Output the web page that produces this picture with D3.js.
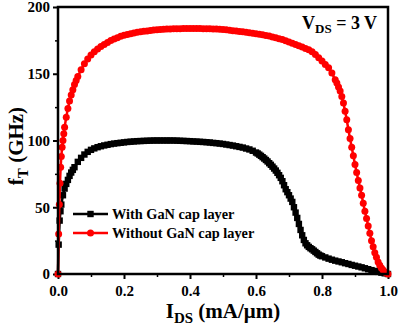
<!DOCTYPE html>
<html>
<head>
<meta charset="utf-8">
<script src="https://cdn.jsdelivr.net/npm/d3@7"></script>
<style>
  body { margin: 0; background: #fff; }
</style>
</head>
<body>
<div id="chart"></div>
<script>
var FONT = "'Liberation Serif', 'Times New Roman', serif";

// With GaN cap layer: drain current (mA/um) and fT (GHz)
var withCapX = [0, 0.002, 0.005, 0.0075, 0.01, 0.015, 0.02, 0.025, 0.03, 0.035, 0.04, 0.045, 0.05,
    0.06, 0.07, 0.08, 0.09, 0.10, 0.11, 0.12, 0.13, 0.14, 0.15, 0.16, 0.17, 0.18, 0.19,
    0.20, 0.21, 0.22, 0.23, 0.24, 0.25, 0.26, 0.27, 0.28, 0.29,
    0.30, 0.31, 0.32, 0.33, 0.34, 0.35, 0.36, 0.37, 0.38, 0.39,
    0.40, 0.41, 0.42, 0.43, 0.44, 0.45, 0.46, 0.47, 0.48, 0.49,
    0.50, 0.51, 0.52, 0.53, 0.54, 0.55, 0.56, 0.57, 0.58, 0.59,
    0.60, 0.605, 0.61, 0.615, 0.62, 0.625, 0.63, 0.635, 0.64, 0.645,
    0.65, 0.655, 0.66, 0.665, 0.67, 0.675, 0.68, 0.685, 0.69, 0.695,
    0.70, 0.705, 0.71, 0.715, 0.72, 0.725, 0.73, 0.735, 0.74, 0.745,
    0.75, 0.755, 0.76, 0.765, 0.77, 0.775, 0.78, 0.785, 0.79, 0.795,
    0.80, 0.81, 0.82, 0.83, 0.84, 0.85, 0.86, 0.87, 0.88, 0.89,
    0.90, 0.91, 0.92, 0.93, 0.94, 0.95, 0.96, 0.97, 0.98, 0.99, 1.00];
var withCapY = [0, 22, 40, 47, 52, 59, 64, 67.5, 70.5, 73.5, 76, 78, 80,
    84, 87, 89.5, 91.5, 93, 94.1, 95, 95.7, 96.3, 96.8, 97.3, 97.7, 98, 98.3,
    98.6, 98.9, 99.1, 99.3, 99.5, 99.6, 99.7, 99.8, 99.9, 100,
    100, 100, 100, 100, 100, 100, 99.9, 99.8, 99.7, 99.6,
    99.5, 99.3, 99.2, 99, 98.9, 98.7, 98.5, 98.2, 98, 97.7,
    97.4, 97, 96.6, 96.2, 95.7, 95.2, 94.7, 94, 93.3, 92.3,
    91, 90.3, 89.4, 88.5, 87.5, 86.5, 85.4, 84.3, 83, 81.8,
    80.4, 79, 77.5, 75.8, 74, 72, 69.5, 66.5, 63.5, 61.3,
    59, 56.5, 54, 50, 46, 42, 37.5, 33, 29, 25.5,
    23, 21.5, 20.3, 19.3, 18.5, 17.5, 16.5, 15.5, 14.5, 13.8,
    13.3, 12.4, 11.5, 10.7, 10, 9.4, 8.8, 8.1, 7.5, 6.8,
    6.2, 5.6, 5, 4.3, 3.6, 2.9, 2.3, 1.6, 1, 0.5, 0];

// Without GaN cap layer: drain current (mA/um) and fT (GHz)
var withoutCapX = [0, 0.002, 0.004, 0.006, 0.008, 0.01, 0.0125, 0.015, 0.0175, 0.02, 0.025,
    0.03, 0.035, 0.04, 0.045, 0.05, 0.055, 0.06, 0.07, 0.08, 0.09,
    0.10, 0.11, 0.12, 0.13, 0.14, 0.15, 0.16, 0.17, 0.18, 0.19,
    0.20, 0.21, 0.22, 0.23, 0.24, 0.25, 0.26, 0.27, 0.28, 0.29,
    0.30, 0.31, 0.32, 0.33, 0.34, 0.35, 0.36, 0.37, 0.38, 0.39,
    0.40, 0.41, 0.42, 0.43, 0.44, 0.45, 0.46, 0.47, 0.48, 0.49,
    0.50, 0.51, 0.52, 0.53, 0.54, 0.55, 0.56, 0.57, 0.58, 0.59,
    0.60, 0.61, 0.62, 0.63, 0.64, 0.65, 0.66, 0.67, 0.68, 0.69,
    0.70, 0.71, 0.72, 0.73, 0.74, 0.75, 0.76, 0.77, 0.78, 0.79,
    0.80, 0.81, 0.82, 0.83, 0.84, 0.845, 0.85, 0.855, 0.86, 0.865,
    0.87, 0.875, 0.88, 0.885, 0.89, 0.895, 0.90, 0.905, 0.91, 0.915,
    0.92, 0.925, 0.93, 0.935, 0.94, 0.945, 0.95, 0.955, 0.96, 0.965,
    0.97, 0.975, 0.98, 0.985, 0.99, 0.995, 1.00];
var withoutCapY = [0, 30, 52, 68, 80, 88, 95, 100, 105, 110, 117.5,
    124, 129.5, 134, 138, 142, 145, 148, 153, 157.5, 161,
    164, 166.5, 168.5, 170.5, 172, 173.5, 175, 176, 177, 178,
    178.8, 179.4, 180, 180.5, 181, 181.4, 181.8, 182.1, 182.4, 182.7,
    183, 183.2, 183.4, 183.5, 183.6, 183.7, 183.8, 183.8, 183.9, 183.9,
    183.9, 183.9, 183.9, 183.9, 183.8, 183.8, 183.7, 183.6, 183.5, 183.3,
    183.1, 182.9, 182.6, 182.3, 182, 181.7, 181.4, 181.1, 180.8, 180.4,
    180, 179.6, 179.2, 178.7, 178.2, 177.6, 177, 176.3, 175.6, 174.8,
    173.8, 172.9, 172, 171, 170, 169, 168, 166.5, 164.5, 162,
    159.5, 157, 154.5, 150.5, 145.5, 143, 140, 137, 133, 128,
    122, 115.5, 108, 101.5, 95, 88.5, 82, 76, 70, 64.5,
    59, 53, 47, 41.5, 36, 30.5, 25, 20.5, 16, 12.5,
    9, 6.5, 4.5, 3, 1.5, 0.7, 0];

var seriesNames = ["With GaN cap layer", "Without GaN cap layer"];
var seriesColors = ["#000000", "#ff0000"];
var xTicks = [0, 0.2, 0.4, 0.6, 0.8, 1.0];
var xMinorTicks = [0.1, 0.3, 0.5, 0.7, 0.9];
var yTicks = [0, 50, 100, 150, 200];
var yMinorTicks = [25, 75, 125, 175];

function init() {
    var width = 401, height = 326;
    var margin = { left: 58, right: 13, top: 7, bottom: 52 };
    var w = width - margin.left - margin.right;
    var h = height - margin.top - margin.bottom;

    var svg = d3.select("#chart").append("svg")
        .attr("width", width)
        .attr("height", height)
        .attr("font-family", FONT)
        .attr("font-weight", "bold");

    var g = svg.append("g")
        .attr("transform", `translate(${margin.left},${margin.top})`);

    var x = d3.scaleLinear().domain([0, 1]).range([0, w]);
    var y = d3.scaleLinear().domain([0, 200]).range([h, 0]);

    // minor ticks
    g.append("g")
        .attr("transform", `translate(0,${h})`)
        .call(d3.axisBottom(x).tickValues(xMinorTicks).tickSize(3).tickFormat(""))
        .call(a => a.select(".domain").remove())
        .selectAll("line").attr("stroke-width", 1.5);
    g.append("g")
        .call(d3.axisLeft(y).tickValues(yMinorTicks).tickSize(3).tickFormat(""))
        .call(a => a.select(".domain").remove())
        .selectAll("line").attr("stroke-width", 1.5);

    // major ticks
    var xAxis = g.append("g")
        .attr("transform", `translate(0,${h})`)
        .call(d3.axisBottom(x).tickValues(xTicks).tickSize(5).tickPadding(6).tickFormat(d3.format(".1f")));
    xAxis.attr("font-family", FONT).attr("font-size", 15);
    xAxis.select(".domain").remove();
    xAxis.selectAll("line").attr("stroke-width", 2);
    xAxis.selectAll("text").attr("fill", "#000");

    var yAxis = g.append("g")
        .call(d3.axisLeft(y).tickValues(yTicks).tickSize(5).tickPadding(3));
    yAxis.attr("font-family", FONT).attr("font-size", 15);
    yAxis.select(".domain").remove();
    yAxis.selectAll("line").attr("stroke-width", 2);
    yAxis.selectAll("text").attr("fill", "#000");

    var data = [
        withCapX.map((v, i) => [v, withCapY[i]]),
        withoutCapX.map((v, i) => [v, withoutCapY[i]])
    ];

    var line = d3.line().x(d => x(d[0])).y(d => y(d[1]));

    // black series
    g.append("path").datum(data[0])
        .attr("fill", "none").attr("stroke", seriesColors[0]).attr("stroke-width", 2.5)
        .attr("d", line);
    g.selectAll("rect.m0").data(data[0]).enter().append("rect")
        .attr("class", "m0")
        .attr("x", d => x(d[0]) - 3.2).attr("y", d => y(d[1]) - 3.2)
        .attr("width", 6.4).attr("height", 6.4)
        .attr("fill", seriesColors[0]);

    // red series
    g.append("path").datum(data[1])
        .attr("fill", "none").attr("stroke", seriesColors[1]).attr("stroke-width", 2.5)
        .attr("d", line);
    g.selectAll("circle.m1").data(data[1]).enter().append("circle")
        .attr("class", "m1")
        .attr("cx", d => x(d[0])).attr("cy", d => y(d[1]))
        .attr("r", 3.5)
        .attr("fill", seriesColors[1]);

    // frame
    g.append("rect")
        .attr("width", w).attr("height", h)
        .attr("fill", "none").attr("stroke", "#000").attr("stroke-width", 2.5);

    // legend
    var legend = g.selectAll("g.leg").data(seriesNames).enter().append("g")
        .attr("class", "leg")
        .attr("transform", (d, i) => `translate(15,${207 + i * 19})`);
    legend.append("line")
        .attr("x1", 0).attr("x2", 35)
        .attr("stroke", (d, i) => seriesColors[i]).attr("stroke-width", 2.5);
    legend.each(function (d, i) {
        var s = d3.select(this);
        if (i === 0) {
            s.append("rect").attr("x", 14.3).attr("y", -3.2).attr("width", 6.4).attr("height", 6.4).attr("fill", seriesColors[0]);
        } else {
            s.append("circle").attr("cx", 17.5).attr("r", 3.5).attr("fill", seriesColors[1]);
        }
    });
    legend.append("text")
        .attr("x", 39).attr("y", 5)
        .attr("font-size", 14.3)
        .text(d => d);

    // V_DS annotation
    var vds = g.append("text")
        .attr("x", 244).attr("y", 22)
        .attr("font-size", 18);
    vds.append("tspan").text("V");
    vds.append("tspan").attr("dy", 4).attr("font-size", 13).text("DS");
    vds.append("tspan").attr("dy", -4).text(" = 3 V");

    // axis titles
    var xt = svg.append("text")
        .attr("x", margin.left + w / 2).attr("y", 318)
        .attr("text-anchor", "middle")
        .attr("font-size", 21);
    xt.append("tspan").text("I");
    xt.append("tspan").attr("dy", 5).attr("font-size", 15).text("DS");
    xt.append("tspan").attr("dy", -5).text(" (mA/μm)");

    var yt = svg.append("text")
        .attr("transform", "translate(23,146) rotate(-90)")
        .attr("text-anchor", "middle")
        .attr("font-size", 21);
    yt.append("tspan").text("f");
    yt.append("tspan").attr("dy", 5).attr("font-size", 15).text("T");
    yt.append("tspan").attr("dy", -5).text(" (GHz)");
}

init();
</script>
</body>
</html>
